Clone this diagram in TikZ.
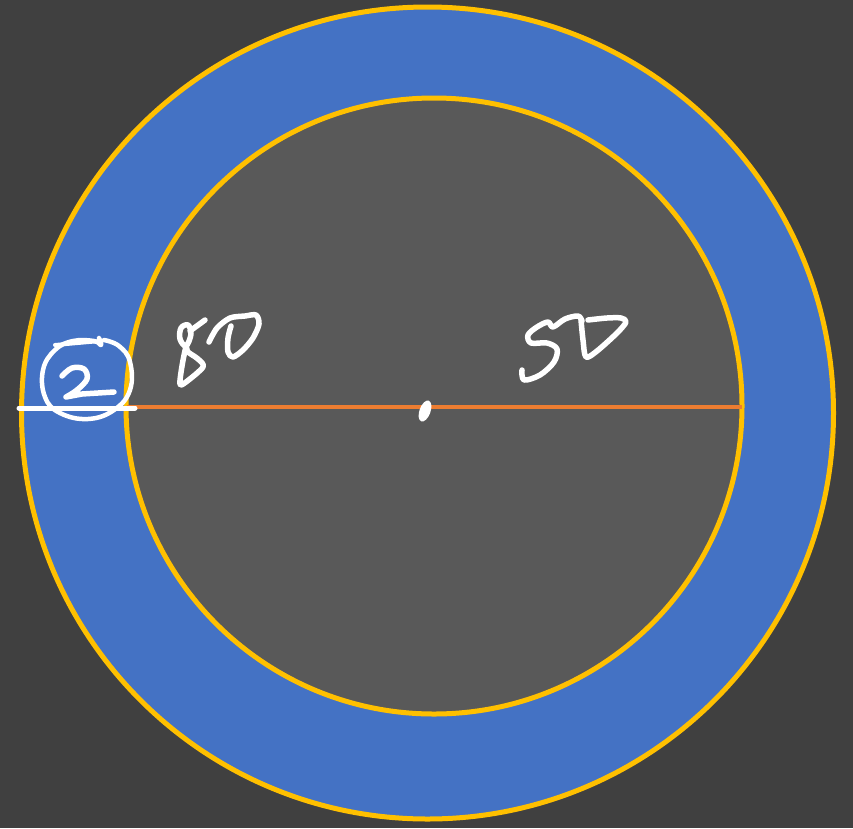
\documentclass[tikz,border=0pt]{standalone}
\begin{document}
\begin{tikzpicture}[x=1pt,y=-1pt,
  hand/.style={draw=white,line width=5.5pt,line cap=round,line join=round},
  ring/.style={draw=ringyellow,line width=5pt}]
\definecolor{bgdark}{HTML}{404040}
\definecolor{innergray}{HTML}{595959}
\definecolor{ringblue}{HTML}{4472C4}
\definecolor{ringyellow}{HTML}{FFC000}
\definecolor{lineorange}{HTML}{ED7D31}
\fill[bgdark] (0,0) rectangle (853,828);
\useasboundingbox (0,0) rectangle (853,828);
% outer disc
\coordinate (oc) at (427.5,413);
\coordinate (ic) at (434,406);
\fill[ringblue] (oc) circle[radius=406];
\draw[ring] (oc) circle[radius=406];
\fill[innergray] (ic) circle[radius=308];
\draw[ring] (ic) circle[radius=308];
% diameter line
\coordinate (la) at (127,407);
\coordinate (lb) at (742,407);
\draw[lineorange,line width=3.5pt] (la) -- (lb);
% centre dot
\fill[white] (425,411) ellipse[x radius=5.5, y radius=11, rotate=-20];
% white underline
\coordinate (ua) at (19,408);
\coordinate (ub) at (135,408);
\draw[hand,line width=5pt] (ua) -- (ub);
% circled 2
\draw[hand,line width=4.5pt] plot[smooth,tension=0.7] coordinates {(99,338) (101,345) (94,341) (73,341) (55,350) (43,370) (45,397) (60,413) (88,419) (114,410) (130,390) (130,362) (119,346) (104,340)};
\draw[hand,line width=4pt] (55,345) -- (100,341);
\draw[hand] plot[smooth,tension=0.6] coordinates {(62,376) (72,368) (84,369) (87,379) (77,390) (66,397)} -- (82,394) -- (114,392);
% 80
\draw[hand] plot[smooth cycle,tension=0.6] coordinates {(181,328) (188,325) (191,334) (186,346) (180,339)};
\draw[hand] plot[smooth cycle,tension=0.5] coordinates {(186,347) (182,366) (180,384) (186,382) (203,367) (198,359) (188,352)};
\draw[hand] (190,331) -- (205,320);
\draw[hand] plot[smooth,tension=0.5] coordinates {(209,342) (217,328) (230,318) (245,316) (256,315) (259,324) (253,338) (243,350) (233,357) (228,352) (228,338) (231,326)};
% 50
\draw[hand] plot[smooth,tension=0.55] coordinates {(522,370) (524,380) (540,375) (554,362) (557,349) (547,343) (531,343) (528,335) (537,327) (548,322) (553,327) (565,319) (578,316) (582,321)};
\draw[hand] plot[smooth,tension=0.5] coordinates {(581,320) (583,340) (586,357) (597,351) (617,333) (626,322) (621,318) (607,318) (588,320)};
\end{tikzpicture}
\end{document}
